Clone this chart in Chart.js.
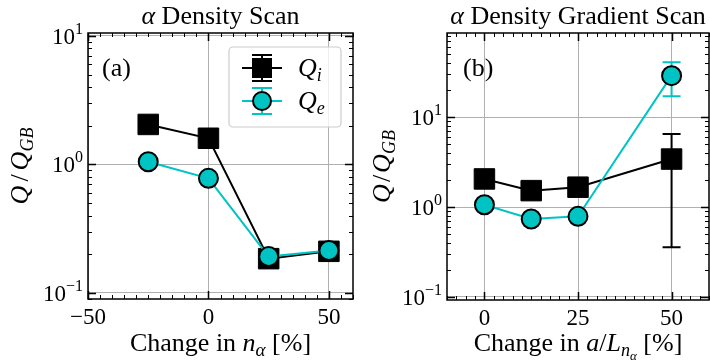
<!DOCTYPE html>
<html><head><meta charset="utf-8">
<script src="https://cdn.jsdelivr.net/npm/chart.js@4.4.0/dist/chart.umd.min.js"></script>
<style>
html,body{margin:0;padding:0;background:#fff;}
#wrap{position:relative;width:710px;height:362px;overflow:hidden;background:#fff;}
canvas{position:absolute;top:0;}
</style></head><body>
<div id="wrap">
<canvas id="ca" width="360" height="362" style="left:0"></canvas>
<canvas id="cb" width="355" height="362" style="left:355px"></canvas>
</div>
<script>
// ---- data ----
const scanA_x = [-25, 0, 25, 50];
const scanA_Qi = [2.05, 1.6, 0.185, 0.211];
const scanA_Qe = [1.05, 0.78, 0.192, 0.214];
const scanB_x = [0, 12.5, 25, 50];
const scanB_Qi = [2.05, 1.52, 1.66, 3.41];
const scanB_Qe = [1.06, 0.736, 0.787, 28.8];
const scanB_QiErrLo = [null, null, null, 0.356];
const scanB_QiErrHi = [null, null, null, 6.47];
const scanB_QeErrLo = [null, null, null, 17.0];
const scanB_QeErrHi = [null, null, null, 40.5];
const xTicksA = [-50, 0, 50];
const xTicksB = [0, 25, 50];
const yTicks = [0.1, 1, 10];
const yTickExp = ['\u22121', '0', '1'];

const CYAN = '#00c4c4';
const SERIF = '"Liberation Serif", "Times New Roman", serif';
function fnt(size, italic) { return (italic ? 'italic ' : '') + size + 'px ' + SERIF; }
function rich(ctx, parts, x, y, align) {
  let w = 0;
  parts.forEach(p => { ctx.font = p.font; p.w = ctx.measureText(p.t).width + (p.gap || 0) * 2; w += p.w; });
  let cx = align === 'center' ? x - w / 2 : (align === 'right' ? x - w : x);
  ctx.textBaseline = 'alphabetic'; ctx.textAlign = 'left';
  parts.forEach(p => { ctx.font = p.font; ctx.fillText(p.t, cx + (p.gap || 0), y + (p.dy || 0)); cx += p.w; });
}
function pts(xs, ys) { return xs.map((x, i) => ({ x: x, y: ys[i] })); }

function panelPlugin(cfg) {
  return {
    id: 'panel',
    beforeDatasetsDraw(chart) {
      const ctx = chart.ctx, xs = chart.scales.x, ys = chart.scales.y;
      ctx.save();
      (cfg.errs || []).forEach(e => {
        ctx.strokeStyle = e.color; ctx.lineWidth = 2;
        e.x.forEach((xv, i) => {
          if (e.lo[i] == null) return;
          const px = xs.getPixelForValue(xv);
          const p1 = ys.getPixelForValue(e.lo[i]), p2 = ys.getPixelForValue(e.hi[i]);
          ctx.beginPath();
          ctx.moveTo(px, p1); ctx.lineTo(px, p2);
          ctx.moveTo(px - 9, p1); ctx.lineTo(px + 9, p1);
          ctx.moveTo(px - 9, p2); ctx.lineTo(px + 9, p2);
          ctx.stroke();
        });
      });
      ctx.restore();
    },
    afterDraw(chart) {
      const ctx = chart.ctx, a = chart.chartArea, xs = chart.scales.x, ys = chart.scales.y;
      ctx.save();
      ctx.fillStyle = '#000'; ctx.strokeStyle = '#000';
      function tick(len, lw, vals, axis) {
        ctx.lineWidth = lw;
        ctx.beginPath();
        vals.forEach(v => {
          if (axis === 'x') {
            const p = Math.round(xs.getPixelForValue(v)) + 0.5;
            if (p < a.left - 0.5 || p > a.right + 0.5) return;
            ctx.moveTo(p, a.bottom); ctx.lineTo(p, a.bottom - len);
            ctx.moveTo(p, a.top); ctx.lineTo(p, a.top + len);
          } else {
            const p = Math.round(ys.getPixelForValue(v)) + 0.5;
            if (p < a.top - 0.5 || p > a.bottom + 0.5) return;
            ctx.moveTo(a.left, p); ctx.lineTo(a.left + len, p);
            ctx.moveTo(a.right, p); ctx.lineTo(a.right - len, p);
          }
        });
        ctx.stroke();
      }
      const xMinor = [];
      for (let v = cfg.xMin; v <= cfg.xMax + 1e-9; v += cfg.xMinorStep) xMinor.push(v);
      const yMinor = [];
      for (let d = -2; d <= 2; d++) for (let k = 2; k <= 9; k++) {
        const v = k * Math.pow(10, d);
        if (v > ys.min && v < ys.max) yMinor.push(v);
      }
      tick(4, 1, xMinor, 'x');
      tick(4, 1, yMinor, 'y');
      tick(8, 1.5, cfg.xMajor, 'x');
      tick(8, 1.5, yTicks, 'y');
      ctx.lineWidth = 1.5;
      ctx.strokeRect(a.left, a.top, a.right - a.left, a.bottom - a.top);
      yTicks.forEach((v, i) => {
        const p = ys.getPixelForValue(v);
        if (p < a.top - 2 || p > a.bottom + 2) return;
        rich(ctx, [{ t: '10', font: fnt(23) }, { t: yTickExp[i], font: fnt(16), dy: -10 }], a.left - 5, p + 8, 'right');
      });
      const cx = (a.left + a.right) / 2;
      rich(ctx, cfg.title, cx, 24, 'center');
      rich(ctx, cfg.xTitle, cx, 351, 'center');
      ctx.save();
      ctx.translate(cfg.yTitleX, (a.top + a.bottom) / 2);
      ctx.rotate(-Math.PI / 2);
      rich(ctx, [{ t: 'Q', font: fnt(26, true) }, { t: '/', font: fnt(26), gap: cfg.slashGap },
                 { t: 'Q', font: fnt(26, true) },
                 { t: 'GB', font: fnt(18, true), dy: 5 }], 0, 8, 'center');
      ctx.restore();
      ctx.font = fnt(26);
      ctx.textAlign = 'left'; ctx.textBaseline = 'alphabetic';
      ctx.fillText(cfg.letter, a.left + cfg.letterDX, 76);
      if (cfg.legend) {
        const L = cfg.legend;
        ctx.save();
        ctx.beginPath();
        ctx.roundRect(L.x, L.y, L.w, L.h, 4);
        ctx.fillStyle = 'rgba(255,255,255,0.8)'; ctx.fill();
        ctx.strokeStyle = '#cccccc'; ctx.lineWidth = 1.2; ctx.stroke();
        const mx = L.x + 33;
        let yy = L.y + 21;
        ctx.strokeStyle = '#000'; ctx.lineWidth = 2;
        ctx.beginPath();
        ctx.moveTo(mx - 20, yy); ctx.lineTo(mx + 20, yy);
        ctx.moveTo(mx, yy - 13); ctx.lineTo(mx, yy + 13);
        ctx.moveTo(mx - 10, yy - 13); ctx.lineTo(mx + 10, yy - 13);
        ctx.moveTo(mx - 10, yy + 13); ctx.lineTo(mx + 10, yy + 13);
        ctx.stroke();
        ctx.fillStyle = '#000';
        ctx.fillRect(mx - 10, yy - 10, 20, 20);
        rich(ctx, [{ t: 'Q', font: fnt(26, true) }, { t: 'i', font: fnt(18, true), dy: 5 }], L.x + 69, yy + 8, 'left');
        yy = L.y + 54;
        ctx.strokeStyle = CYAN; ctx.lineWidth = 2;
        ctx.beginPath();
        ctx.moveTo(mx - 20, yy); ctx.lineTo(mx + 20, yy);
        ctx.moveTo(mx, yy - 13); ctx.lineTo(mx, yy + 13);
        ctx.moveTo(mx - 10, yy - 13); ctx.lineTo(mx + 10, yy - 13);
        ctx.moveTo(mx - 10, yy + 13); ctx.lineTo(mx + 10, yy + 13);
        ctx.stroke();
        ctx.beginPath(); ctx.arc(mx, yy, 9, 0, Math.PI * 2);
        ctx.fillStyle = CYAN; ctx.fill();
        ctx.strokeStyle = '#000'; ctx.lineWidth = 2; ctx.stroke();
        ctx.fillStyle = '#000';
        rich(ctx, [{ t: 'Q', font: fnt(26, true) }, { t: 'e', font: fnt(18, true), dy: 5 }], L.x + 69, yy + 8, 'left');
        ctx.restore();
      }
      ctx.restore();
    }
  };
}

function makeChart(id, o) {
  return new Chart(document.getElementById(id), {
    type: 'line',
    data: {
      datasets: [
        { label: 'Qe', data: pts(o.x, o.qe), order: 0, borderColor: CYAN, borderWidth: 2,
          pointStyle: 'circle', pointRadius: 9.5, pointBackgroundColor: CYAN, pointBorderColor: '#000',
          pointBorderWidth: 2, tension: 0, fill: false },
        { label: 'Qi', data: pts(o.x, o.qi), order: 1, borderColor: '#000', borderWidth: 2,
          pointStyle: 'rect', pointRadius: 14.5, pointBackgroundColor: '#000', pointBorderColor: '#000',
          pointBorderWidth: 1, tension: 0, fill: false }
      ]
    },
    options: {
      responsive: false, animation: false, events: [],
      layout: { autoPadding: false, padding: { top: 33, right: o.padR, left: 0, bottom: 0 } },
      plugins: { legend: { display: false }, tooltip: { enabled: false }, title: { display: false } },
      scales: {
        x: {
          type: 'linear', min: o.xMin, max: o.xMax,
          afterBuildTicks: s => { s.ticks = o.xMajor.map(v => ({ value: v })); },
          afterFit: s => { s.height = o.xH; s.paddingLeft = 0; s.paddingRight = 0; },
          grid: { color: '#b0b0b0', lineWidth: 1, drawTicks: false },
          border: { display: false },
          ticks: { autoSkip: false, maxRotation: 0, padding: 5, color: '#000',
                   font: { family: SERIF, size: 23 },
                   callback: v => String(v).replace('-', '\u2212') }
        },
        y: {
          type: 'logarithmic', min: o.yMin, max: o.yMax,
          afterBuildTicks: s => { s.ticks = yTicks.map(v => ({ value: v })); },
          afterFit: s => { s.width = o.yW; s.paddingTop = 0; s.paddingBottom = 0; },
          grid: { color: '#b0b0b0', lineWidth: 1, drawTicks: false },
          border: { display: false },
          ticks: { display: false }
        }
      }
    },
    plugins: [panelPlugin(o.panel)]
  });
}

makeChart('ca', {
  x: scanA_x, qi: scanA_Qi, qe: scanA_Qe,
  xMin: -50, xMax: 60, xMajor: xTicksA, yMin: 0.0898, yMax: 10.55,
  padR: 7, yW: 88, xH: 63,
  panel: {
    xMin: -50, xMax: 60, xMinorStep: 5, xMajor: xTicksA,
    title: [{ t: '\u03b1', font: fnt(26, true) }, { t: ' Density Scan', font: fnt(26) }],
    xTitle: [{ t: 'Change in ', font: fnt(26) }, { t: 'n', font: fnt(26, true) },
             { t: '\u03b1', font: fnt(19, true), dy: 5 }, { t: ' [%]', font: fnt(26) }],
    yTitleX: 20, slashGap: 4, letter: '(a)', letterDX: 14,
    legend: { x: 229, y: 47, w: 112, h: 80 },
    errs: []
  }
});

makeChart('cb', {
  x: scanB_x, qi: scanB_Qi, qe: scanB_Qe,
  xMin: -10, xMax: 60, xMajor: xTicksB, yMin: 0.0926, yMax: 85.8,
  padR: 1, yW: 92, xH: 62,
  panel: {
    xMin: -10, xMax: 60, xMinorStep: 2.5, xMajor: xTicksB,
    title: [{ t: '\u03b1', font: fnt(26, true) }, { t: ' Density Gradient Scan', font: fnt(26) }],
    xTitle: [{ t: 'Change in ', font: fnt(26) }, { t: 'a', font: fnt(26, true) }, { t: '/', font: fnt(26) },
             { t: 'L', font: fnt(26, true) }, { t: 'n', font: fnt(18, true), dy: 5 },
             { t: '\u03b1', font: fnt(13, true), dy: 9 }, { t: ' [%]', font: fnt(26) }],
    yTitleX: 27, slashGap: 2, letter: '(b)', letterDX: 16,
    errs: [
      { x: scanB_x, lo: scanB_QiErrLo, hi: scanB_QiErrHi, color: '#000' },
      { x: scanB_x, lo: scanB_QeErrLo, hi: scanB_QeErrHi, color: CYAN }
    ]
  }
});
</script>
</body></html>
